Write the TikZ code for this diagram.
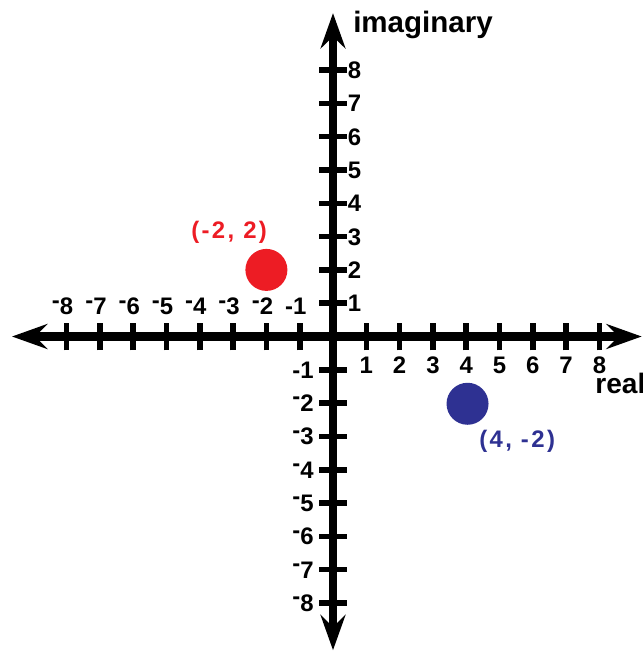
\documentclass[tikz,border=0pt]{standalone}
\usepackage{fontspec}
\setmainfont{Liberation Sans}
\newfontfamily\wideface[LetterSpace=10]{Liberation Sans}
\usetikzlibrary{arrows.meta, positioning}

\definecolor{ptred}{HTML}{ED1C24}
\definecolor{ptblue}{HTML}{2E3192}

% minus sign of the tick labels: raised, except for -1
\newcommand{\negnum}[1]{\ifnum#1=1 \llap{-}\else\llap{\raisebox{0.28em}{-}}\fi#1}

\tikzset{
  axistip/.tip={Stealth[length=0.88cm, width=0.62cm, inset=0.3cm]},
  axisline/.style={line width=0.21cm, axistip-axistip},
  tickmark/.style={line width=0.14cm},
  ticklabel/.style={font=\fontsize{17}{20}\selectfont\bfseries, inner sep=0pt},
  axislabel/.style={font=\fontsize{21}{24}\selectfont\bfseries, inner sep=0pt, anchor=base west},
  dot/.style={circle, inner sep=0pt, minimum size=1.05cm},
  dotlabel/.style={font=\fontsize{17}{20}\selectfont\wideface\bfseries, inner sep=0pt}
}

\begin{document}
\begin{tikzpicture}[x=0.8325cm, y=0.8325cm]
    % frame of the picture
    \fill[white] (-10.0,-9.444) rectangle (9.279,10.105);
    \clip (-10.0,-9.444) rectangle (9.279,10.105);

    % Axes
    \coordinate (xleft) at (-9.64,0);
    \coordinate (xright) at (9.27,0);
    \coordinate (ytop) at (0,9.71);
    \coordinate (ybottom) at (0,-9.42);
    \draw[axisline] (xleft) -- (xright);
    \draw[axisline] (ybottom) -- (ytop);

    % Ticks and their numbers
    \foreach \k in {1,...,8} {
        \draw[tickmark] (\k,-0.42) -- (\k,0.42);
        \draw[tickmark] (-\k,-0.42) -- (-\k,0.42);
        \draw[tickmark] (-0.42,\k) -- (0.42,\k);
        \draw[tickmark] (-0.42,-\k) -- (0.42,-\k);
        \node[ticklabel, anchor=base] (xpos\k) at (\k,-1.1) {\k};
        \node[ticklabel, anchor=base] (xneg\k) at (-\k,0.65) {\negnum{\k}};
        \node[ticklabel, anchor=base west] (ypos\k) at (0.44,\k-0.255) {\k};
        \node[ticklabel, anchor=base east] (yneg\k) at (-0.57,-\k-0.255) {\negnum{\k}};
    }

    % Axis names
    \node[axislabel] (imag) at (0.6,9.14) {imaginary};
    \node[axislabel, font=\fontsize{20}{23}\selectfont\bfseries] (real) at (7.87,-1.72) {real};

    % Points
    \node[dot, fill=ptred] (pred) at (-2,2) {};
    \node[dotlabel, text=ptred] (predlabel) at (-3.12,3.14) {(-2, 2)};
    \node[dot, fill=ptblue] (pblue) at (4.04,-2.02) {};
    \node[dotlabel, text=ptblue] (pbluelabel) at (5.53,-3.14) {(4, -2)};
\end{tikzpicture}
\end{document}
